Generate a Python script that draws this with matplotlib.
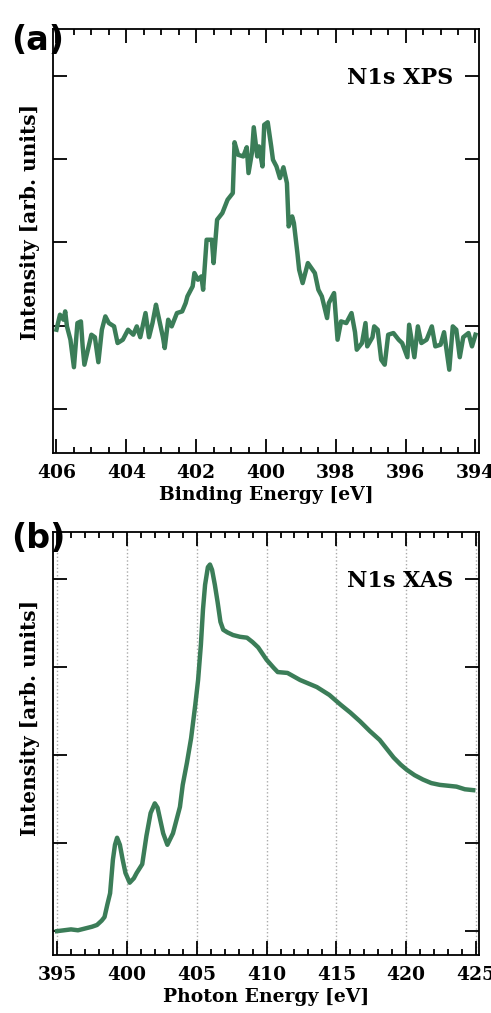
import matplotlib
matplotlib.use('Agg')
import matplotlib.pyplot as plt
from matplotlib.ticker import MultipleLocator

# N1s XPS (binding energy, eV)
xps_energy = [406.0, 405.9, 405.8, 405.75, 405.7, 405.6, 405.5, 405.4, 405.3, 405.25,
              405.2, 405.1, 405.0, 404.9, 404.8, 404.7, 404.6, 404.5, 404.35, 404.25,
              404.1, 403.95, 403.8, 403.7, 403.6, 403.45, 403.35, 403.25, 403.15, 403.1,
              402.95, 402.9, 402.8, 402.7, 402.55, 402.4, 402.3, 402.25, 402.1, 402.05,
              401.95, 401.85, 401.8, 401.7, 401.55, 401.5, 401.4, 401.25, 401.1, 400.95,
              400.9, 400.8, 400.65, 400.55, 400.5, 400.4, 400.35, 400.25, 400.2, 400.1,
              400.05, 399.95, 399.85, 399.8, 399.7, 399.6, 399.5, 399.4, 399.35, 399.25,
              399.2, 399.1, 399.05, 398.95, 398.8, 398.6, 398.5, 398.4, 398.25, 398.2,
              398.05, 397.95, 397.85, 397.7, 397.55, 397.45, 397.4, 397.25, 397.15, 397.1,
              396.95, 396.9, 396.8, 396.7, 396.6, 396.5, 396.35, 396.2, 396.1, 395.95,
              395.9, 395.75, 395.65, 395.55, 395.4, 395.25, 395.15, 395.0, 394.9, 394.75,
              394.65, 394.55, 394.45, 394.35, 394.2, 394.1, 394.0]
xps_intensity = [0.95, 1.13, 1.07, 1.17, 0.99, 0.83, 0.50, 1.03, 1.05, 0.75,
                 0.53, 0.71, 0.89, 0.86, 0.56, 0.95, 1.11, 1.03, 0.99, 0.79,
                 0.83, 0.95, 0.89, 0.99, 0.86, 1.15, 0.86, 1.03, 1.25, 1.15,
                 0.86, 0.73, 1.07, 0.99, 1.15, 1.17, 1.27, 1.35, 1.47, 1.63,
                 1.55, 1.59, 1.43, 2.03, 2.03, 1.75, 2.27, 2.35, 2.51, 2.59,
                 3.20, 3.05, 3.03, 3.14, 2.83, 3.08, 3.38, 3.03, 3.15, 2.91,
                 3.41, 3.44, 3.15, 2.99, 2.91, 2.77, 2.90, 2.71, 2.19, 2.31,
                 2.23, 1.87, 1.67, 1.51, 1.75, 1.63, 1.43, 1.35, 1.09, 1.27,
                 1.39, 0.83, 1.05, 1.03, 1.15, 0.92, 0.71, 0.79, 1.03, 0.75,
                 0.86, 0.99, 0.95, 0.59, 0.53, 0.89, 0.91, 0.83, 0.79, 0.62,
                 1.01, 0.62, 0.99, 0.79, 0.83, 0.99, 0.75, 0.77, 0.92, 0.47,
                 0.99, 0.95, 0.62, 0.86, 0.91, 0.75, 0.89]

# N1s XAS (photon energy, eV)
xas_energy = [395.0, 395.5, 396.0, 396.5, 397.0, 397.5, 397.86, 398.2, 398.4, 398.6,
              398.8, 399.0, 399.15, 399.3, 399.5, 399.7, 399.9, 400.2, 400.5, 400.7,
              401.1, 401.4, 401.7, 402.0, 402.2, 402.6, 402.9, 403.3, 403.8, 404.0,
              404.3, 404.6, 404.9, 405.1, 405.3, 405.45, 405.6, 405.8, 405.95, 406.1,
              406.3, 406.5, 406.7, 406.9, 407.2, 407.6, 408.1, 408.6, 409.0, 409.4,
              410.0, 410.5, 410.8, 411.5, 412.4, 413.6, 414.5, 415.3, 416.0, 416.7,
              417.4, 418.1, 418.6, 419.1, 419.6, 420.05, 420.6, 421.2, 421.8, 422.4,
              423.0, 423.6, 424.2, 424.8]
xas_intensity = [0.00, 0.01, 0.02, 0.01, 0.03, 0.05, 0.07, 0.12, 0.16, 0.30,
                 0.43, 0.81, 0.98, 1.06, 0.98, 0.81, 0.66, 0.55, 0.60, 0.66,
                 0.76, 1.08, 1.34, 1.45, 1.40, 1.11, 0.98, 1.11, 1.41, 1.66,
                 1.91, 2.19, 2.57, 2.85, 3.25, 3.65, 3.93, 4.13, 4.16, 4.10,
                 3.93, 3.73, 3.51, 3.42, 3.39, 3.36, 3.34, 3.33, 3.28, 3.22,
                 3.08, 2.99, 2.94, 2.93, 2.85, 2.77, 2.68, 2.57, 2.48, 2.38,
                 2.27, 2.17, 2.07, 1.97, 1.89, 1.83, 1.77, 1.72, 1.68, 1.66,
                 1.65, 1.64, 1.61, 1.60]

green = '#3b7d58'
serif = 'DejaVu Serif'

fig = plt.figure(figsize=(4.91, 10.13), dpi=100)
ax1 = fig.add_axes([0.1079, 0.5528, 0.8676, 0.4186])
ax2 = fig.add_axes([0.1079, 0.0573, 0.8676, 0.4176])


def style_axes(ax, major, minor):
    for s in ax.spines.values():
        s.set_linewidth(1.3)
    ax.xaxis.set_major_locator(MultipleLocator(major))
    ax.xaxis.set_minor_locator(MultipleLocator(minor))
    ax.yaxis.set_major_locator(MultipleLocator(1))
    ax.tick_params(which='both', direction='in', top=True, right=True, width=1.3)
    ax.tick_params(which='major', length=10)
    ax.tick_params(which='minor', length=4.5)
    ax.tick_params(axis='y', labelleft=False)
    ax.tick_params(axis='x', pad=8)
    for lab in ax.get_xticklabels():
        lab.set_fontfamily(serif)
        lab.set_fontweight('bold')
        lab.set_fontsize(13.5)
    ax.set_ylabel('Intensity [arb. units]', family=serif, weight='bold', fontsize=14.5)


# (a) XPS
ax1.plot(xps_energy, xps_intensity, color=green, lw=3.2)
ax1.set_xlim(406.1, 393.9)
ax1.set_ylim(-0.53, 4.56)
style_axes(ax1, 2, 0.5)
ax1.set_xlabel('Binding Energy [eV]', family=serif, weight='bold', fontsize=13.5, labelpad=3)
ax1.yaxis.set_label_coords(-0.03, 0.545)
ax1.text(0.94, 0.885, 'N1s XPS', transform=ax1.transAxes, ha='right', va='center',
         family=serif, weight='bold', fontsize=16)

# (b) XAS
ax2.plot(xas_energy, xas_intensity, color=green, lw=3.2)
ax2.set_xlim(394.71, 425.21)
ax2.set_ylim(-0.27, 4.53)
ax2.grid(axis='x', which='major', color='#aaaaaa', linestyle=':', linewidth=1)
style_axes(ax2, 5, 1)
ax2.set_xlabel('Photon Energy [eV]', family=serif, weight='bold', fontsize=13.5, labelpad=3)
ax2.yaxis.set_label_coords(-0.03, 0.56)
ax2.text(0.94, 0.885, 'N1s XAS', transform=ax2.transAxes, ha='right', va='center',
         family=serif, weight='bold', fontsize=16)

fig.text(0.022, 1 - 41 / 1013, '(a)', ha='left', va='center', fontsize=24, weight='bold')
fig.text(0.022, 1 - 538 / 1013, '(b)', ha='left', va='center', fontsize=24, weight='bold')

fig.savefig('out.png', dpi=100)
